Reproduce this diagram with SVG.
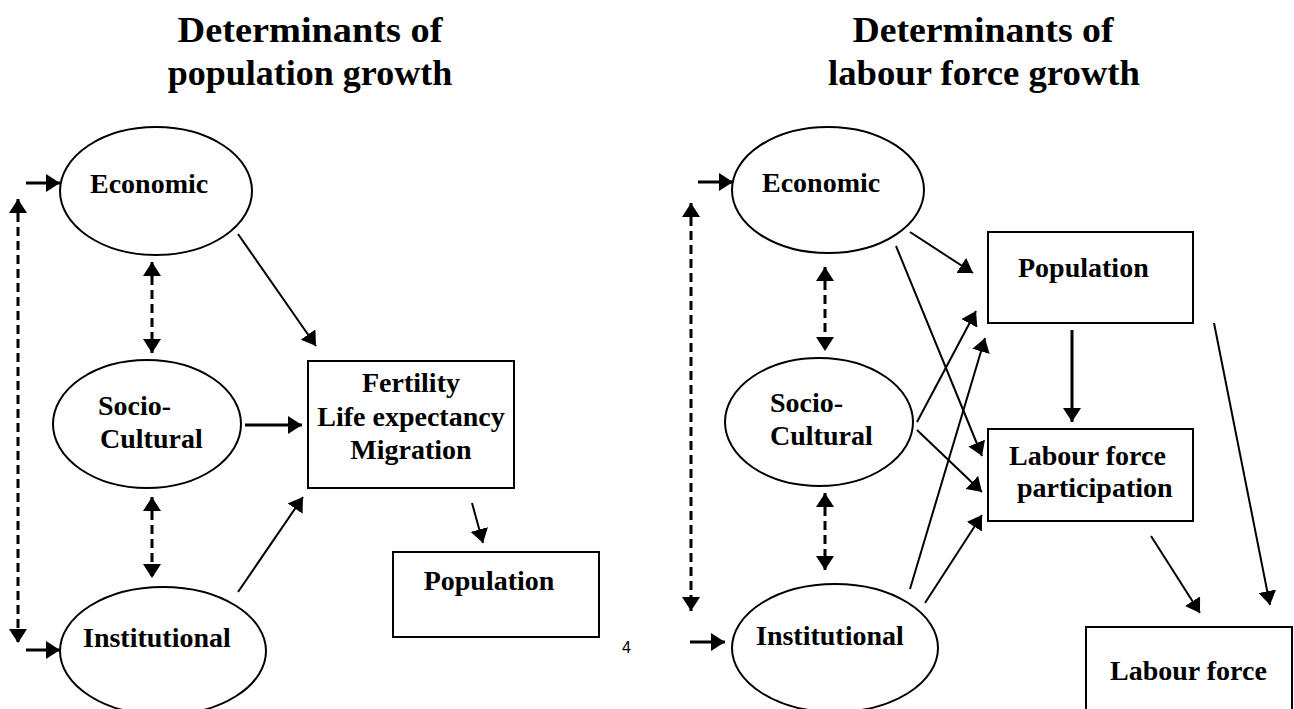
<svg xmlns="http://www.w3.org/2000/svg" width="1294" height="709" viewBox="0 0 1294 709">
<style>
text{font-family:"Liberation Serif","Times New Roman",serif;font-weight:bold;fill:#000}
.t{font-size:28px}
.h{font-size:36px;text-anchor:middle}
.n{fill:#fff;stroke:#000;stroke-width:2}
.c{stroke:#000;stroke-width:2;fill:none;marker-end:url(#ah)}
.k{stroke-width:3}
.d{stroke:#000;stroke-width:3;fill:none;stroke-dasharray:9 5;marker-start:url(#ah);marker-end:url(#ah)}
.pg{font-family:"Liberation Sans",Arial,sans-serif;font-weight:normal;font-size:16px}
</style>
<defs>
<marker id="ah" markerUnits="userSpaceOnUse" markerWidth="14" markerHeight="18" refX="14" refY="9" orient="auto-start-reverse">
<path d="M0,0 L14,9 L0,18 z" fill="#000"/>
</marker>
</defs>
<rect width="1294" height="709" fill="#fff"/>
<text class="h" x="310" y="42" textLength="265" lengthAdjust="spacingAndGlyphs">Determinants of</text>
<text class="h" x="310" y="85">population growth</text>
<text class="h" x="983" y="42" textLength="261" lengthAdjust="spacingAndGlyphs">Determinants of</text>
<text class="h" x="984" y="85" textLength="312" lengthAdjust="spacingAndGlyphs">labour force growth</text>
<text class="pg" x="622" y="653">4</text>

<g id="L-economic"><ellipse class="n" cx="156" cy="191" rx="96" ry="64"/><text class="t" x="90" y="193">Economic</text></g>
<g id="L-socio"><ellipse class="n" cx="147" cy="424" rx="94" ry="64"/><text class="t" x="98" y="415">Socio-</text><text class="t" x="100" y="448">Cultural</text></g>
<g id="L-institutional"><ellipse class="n" cx="163" cy="651" rx="103" ry="64"/><text class="t" x="83" y="647">Institutional</text></g>
<g id="L-fertility"><rect class="n" x="308" y="361" width="206" height="127"/><text class="t" text-anchor="middle" x="411" y="392">Fertility</text><text class="t" text-anchor="middle" x="411" y="426">Life expectancy</text><text class="t" text-anchor="middle" x="411" y="459">Migration</text></g>
<g id="L-population"><rect class="n" x="393" y="552" width="206" height="85"/><text class="t" text-anchor="middle" x="489" y="590">Population</text></g>

<g id="R-economic"><ellipse class="n" cx="828" cy="190" rx="96" ry="63"/><text class="t" x="762" y="192">Economic</text></g>
<g id="R-socio"><ellipse class="n" cx="819" cy="422" rx="94" ry="64"/><text class="t" x="770" y="412">Socio-</text><text class="t" x="770" y="445">Cultural</text></g>
<g id="R-institutional"><ellipse class="n" cx="835" cy="648" rx="103" ry="64"/><text class="t" x="756" y="645">Institutional</text></g>
<g id="R-population"><rect class="n" x="988" y="232" width="205" height="91"/><text class="t" x="1018" y="277">Population</text></g>
<g id="R-lfp"><rect class="n" x="988" y="429" width="205" height="92"/><text class="t" x="1009" y="465">Labour force</text><text class="t" x="1017" y="497">participation</text></g>
<g id="R-labourforce"><rect class="n" x="1086" y="627" width="206" height="100"/><text class="t" x="1110" y="680">Labour force</text></g>

<g id="connectors">
<line class="c k" x1="26" y1="183" x2="60" y2="183"/>
<line class="c k" x1="26" y1="650" x2="60" y2="650"/>
<line class="d" x1="18" y1="199" x2="18" y2="643"/>
<line class="d" x1="152" y1="262" x2="152" y2="353"/>
<line class="d" x1="152" y1="497" x2="152" y2="578"/>
<line class="c" x1="238" y1="234" x2="316" y2="346"/>
<line class="c k" x1="245" y1="425" x2="302" y2="425"/>
<line class="c" x1="238" y1="592" x2="303" y2="497"/>
<line class="c" x1="472" y1="503" x2="483" y2="543"/>

<line class="c k" x1="698" y1="182" x2="733" y2="182"/>
<line class="c k" x1="690" y1="642" x2="725" y2="642"/>
<line class="d" x1="691" y1="203" x2="691" y2="611"/>
<line class="d" x1="825" y1="267" x2="825" y2="351"/>
<line class="d" x1="825" y1="493" x2="825" y2="570"/>
<line class="c" x1="910" y1="232" x2="973" y2="273"/>
<line class="c" x1="896" y1="246" x2="982" y2="456"/>
<line class="c" x1="917" y1="422" x2="976" y2="311"/>
<line class="c" x1="917" y1="430" x2="982" y2="492"/>
<line class="c" x1="910" y1="589" x2="985" y2="338"/>
<line class="c" x1="925" y1="603" x2="982" y2="515"/>
<line class="c k" x1="1072" y1="330" x2="1072" y2="422"/>
<line class="c" x1="1151" y1="536" x2="1200" y2="613"/>
<line class="c" x1="1214" y1="323" x2="1270" y2="605"/>
</g>
</svg>
